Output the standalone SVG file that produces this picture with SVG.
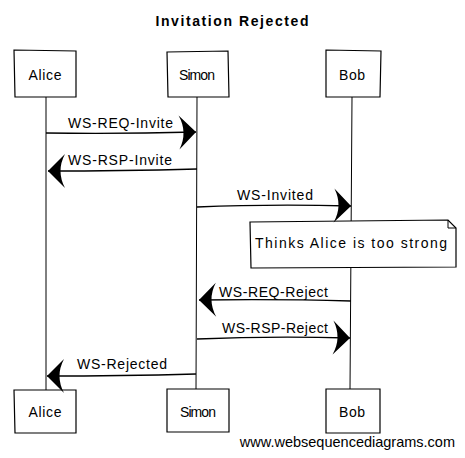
<svg xmlns="http://www.w3.org/2000/svg" width="465" height="458" viewBox="0 0 465 458">
<style>
.box{fill:#fff;stroke:#000;stroke-width:1.2}
.life{fill:none;stroke:#000;stroke-width:1}
.msg{fill:none;stroke:#000;stroke-width:1.3}
.t{font-family:"Liberation Sans",Arial,sans-serif;font-size:14px;fill:#000}
.title{font-family:"Liberation Sans",Arial,sans-serif;font-size:14px;font-weight:bold;fill:#000}
.foot{font-family:"Liberation Sans",Arial,sans-serif;font-size:14.5px;fill:#000}
</style>
<defs>
<marker id="ah" markerUnits="userSpaceOnUse" markerWidth="22" markerHeight="38" refX="18" refY="18" orient="auto" viewBox="0 0 22 38">
<path d="M18,18 L1,1 Q10,18 1,35 Z" fill="#000"/>
</marker>
</defs>
<rect width="465" height="458" fill="#fff"/>
<text class="title" x="232" y="26" text-anchor="middle" textLength="153" lengthAdjust="spacing">Invitation Rejected</text>
<g id="lifelines">
<path class="life" d="M46,97 L46,390"/>
<path class="life" d="M197,97 L196,389"/>
<path class="life" d="M352,97 L350,389"/>
</g>
<g id="alice-top"><path class="box" d="M14,50 L76,51 L76,97 L15,97 Z"/><text class="t" x="45" y="80" text-anchor="middle" textLength="33" lengthAdjust="spacing">Alice</text></g>
<g id="simon-top"><path class="box" d="M167,52 L228,51 L229,97 L168,97 Z"/><text class="t" x="197" y="80" text-anchor="middle" textLength="36" lengthAdjust="spacing">Simon</text></g>
<g id="bob-top"><path class="box" d="M326,50 L381,51 L380,97 L326,97 Z"/><text class="t" x="352" y="80" text-anchor="middle" textLength="26" lengthAdjust="spacing">Bob</text></g>
<g id="alice-bottom"><path class="box" d="M14,390 L76,390 L76,433 L15,433 Z"/><text class="t" x="45" y="417" text-anchor="middle" textLength="33" lengthAdjust="spacing">Alice</text></g>
<g id="simon-bottom"><path class="box" d="M167,389 L229,389 L229,432 L167,432 Z"/><text class="t" x="198" y="417" text-anchor="middle" textLength="36" lengthAdjust="spacing">Simon</text></g>
<g id="bob-bottom"><path class="box" d="M326,389 L380,389 L380,433 L326,433 Z"/><text class="t" x="352" y="417" text-anchor="middle" textLength="26" lengthAdjust="spacing">Bob</text></g>
<g id="note">
<path class="box" d="M250,222 L448,220 L456,228 L456,267 L251,268 Z"/>
<path fill="none" stroke="#000" stroke-width="1" d="M448,220 L448,228 L456,228"/>
<text class="t" x="255" y="248" textLength="192" lengthAdjust="spacing">Thinks Alice is too strong</text>
</g>
<g id="connectors">
<path class="msg" d="M46,133 Q120,134 196,132" marker-end="url(#ah)"/>
<path class="msg" d="M197,169 Q120,171 48,171" marker-end="url(#ah)"/>
<path class="msg" d="M197,207 Q270,204 351,206" marker-end="url(#ah)"/>
<path class="msg" d="M351,301 Q280,299 199,300" marker-end="url(#ah)"/>
<path class="msg" d="M197,339 Q270,336 350,338" marker-end="url(#ah)"/>
<path class="msg" d="M196,374 Q120,376 47,376" marker-end="url(#ah)"/>
</g>
<g id="labels">
<text class="t" x="68" y="128" textLength="105" lengthAdjust="spacing">WS-REQ-Invite</text>
<text class="t" x="68" y="165" textLength="104" lengthAdjust="spacing">WS-RSP-Invite</text>
<text class="t" x="237" y="200" textLength="76" lengthAdjust="spacing">WS-Invited</text>
<text class="t" x="219" y="297" textLength="109" lengthAdjust="spacing">WS-REQ-Reject</text>
<text class="t" x="222" y="333" textLength="106" lengthAdjust="spacing">WS-RSP-Reject</text>
<text class="t" x="77" y="369" textLength="90" lengthAdjust="spacing">WS-Rejected</text>
</g>
<text class="foot" x="455" y="447" text-anchor="end">www.websequencediagrams.com</text>
</svg>
